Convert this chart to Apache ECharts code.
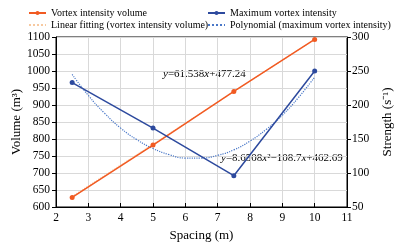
<!DOCTYPE html>
<html>
<head>
<meta charset="utf-8">
<script src="https://cdn.jsdelivr.net/npm/echarts@6/dist/echarts.min.js"></script>
<style>
  html, body { margin: 0; padding: 0; background: #fff; }
  #chart { width: 398px; height: 247px; }
</style>
</head>
<body>
<div id="chart"></div>
<script>
const spacing = [2.5, 5, 7.5, 10];
const volume = [628, 782, 940, 1093];
const strength = [233, 166, 96, 250];

// fitted curves
const linearFitX = [2.5, 10];
const linearFitY = [631, 1093];
const polyFitX = [2.5, 3, 3.5, 4, 4.5, 5, 5.5, 6, 6.5, 7, 7.5, 8, 8.5, 9, 9.5, 10];
const polyFitY = [245, 214, 188, 166, 149, 136, 127, 122, 122, 126, 134, 147, 164, 185, 211, 241];

const orange = '#f15a22';
const blue = '#2d4a9e';
const fitOrange = '#f7c9a0';
const fitBlue = '#4a78c8';
const font = '"Liberation Serif", "Times New Roman", serif';

const pairs = (xs, ys) => xs.map((x, i) => [x, ys[i]]);

const legendText = { fontFamily: font, fontSize: 10, color: '#000', lineHeight: 12 };
const plain = v => String(v);

const chart = echarts.init(document.getElementById('chart'));

chart.setOption({
    animation: false,
    textStyle: { fontFamily: font, color: '#000' },
    grid: {
        left: 56,
        right: 51,
        top: 37,
        bottom: 40,
        outerBoundsMode: 'none',
        containLabel: false,
        show: true,
        borderColor: '#000',
        borderWidth: 1
    },
    legend: [
        {
            orient: 'vertical',
            left: 28,
            top: 7,
            padding: 0,
            itemWidth: 17,
            itemHeight: 5,
            itemGap: 0,
            textStyle: legendText,
            data: [
                { name: 'Vortex intensity volume' },
                { name: 'Linear fitting (vortex intensity volume)', itemStyle: { opacity: 0 } }
            ]
        },
        {
            orient: 'vertical',
            left: 207,
            top: 7,
            padding: 0,
            itemWidth: 17,
            itemHeight: 5,
            itemGap: 0,
            textStyle: legendText,
            data: [
                { name: 'Maximum vortex intensity' },
                { name: 'Polynomial (maximum vortex intensity)', itemStyle: { opacity: 0 } }
            ]
        }
    ],
    xAxis: {
        type: 'value',
        min: 2,
        max: 11,
        interval: 1,
        name: 'Spacing (m)',
        nameLocation: 'middle',
        nameGap: 21,
        nameTextStyle: { fontFamily: font, fontSize: 13, color: '#000' },
        axisLine: { lineStyle: { color: '#000' } },
        axisTick: { inside: true, length: 4, lineStyle: { color: '#000' } },
        axisLabel: { fontFamily: font, fontSize: 11.5, color: '#000', margin: 5, formatter: plain },
        splitLine: { show: true, lineStyle: { color: '#d9d9d9' } }
    },
    yAxis: [
        {
            type: 'value',
            min: 600,
            max: 1100,
            interval: 50,
            name: 'Volume (m³)',
            nameLocation: 'middle',
            nameGap: 33,
            nameMoveOverlap: false,
            nameTextStyle: { fontFamily: font, fontSize: 13, color: '#000' },
            axisLine: { show: true, lineStyle: { color: '#000' } },
            axisTick: { show: true, length: 4, lineStyle: { color: '#000' } },
            axisLabel: { fontFamily: font, fontSize: 11.5, color: '#000', margin: 6, formatter: plain },
            splitLine: { show: true, lineStyle: { color: '#d9d9d9' } }
        },
        {
            type: 'value',
            min: 50,
            max: 300,
            interval: 50,
            position: 'right',
            name: 'Strength (s⁻¹)',
            nameLocation: 'middle',
            nameGap: 34,
            nameRotate: 90,
            nameTextStyle: { fontFamily: font, fontSize: 13, color: '#000' },
            axisLine: { show: true, lineStyle: { color: '#000' } },
            axisTick: { show: true, length: 4, lineStyle: { color: '#000' } },
            axisLabel: { fontFamily: font, fontSize: 11.5, color: '#000', margin: 5, formatter: plain },
            splitLine: { show: false }
        }
    ],
    graphic: [
        {
            type: 'text',
            left: 163,
            top: 69,
            style: {
                text: '{i|y}=61.538{i|x}+477.24',
                rich: { i: { fontStyle: 'italic', fontFamily: font, fontSize: 11 } },
                fontFamily: font,
                fontSize: 11,
                fill: '#000',
                backgroundColor: '#fff'
            }
        },
        {
            type: 'text',
            left: 221,
            top: 153,
            style: {
                text: '{i|y}=8.6508{i|x}²−108.7{i|x}+462.69',
                rich: { i: { fontStyle: 'italic', fontFamily: font, fontSize: 11 } },
                fontFamily: font,
                fontSize: 11,
                fill: '#000'
            }
        }
    ],
    series: [
        {
            name: 'Linear fitting (vortex intensity volume)',
            type: 'line',
            yAxisIndex: 0,
            data: pairs(linearFitX, linearFitY),
            symbol: 'none',
            itemStyle: { color: fitOrange },
            lineStyle: { color: fitOrange, width: 1.2, type: 'dotted' },
            z: 1
        },
        {
            name: 'Polynomial (maximum vortex intensity)',
            type: 'line',
            yAxisIndex: 1,
            data: pairs(polyFitX, polyFitY),
            smooth: true,
            symbol: 'none',
            itemStyle: { color: fitBlue },
            lineStyle: { color: fitBlue, width: 1.2, type: 'dotted' },
            z: 1
        },
        {
            name: 'Vortex intensity volume',
            type: 'line',
            yAxisIndex: 0,
            data: pairs(spacing, volume),
            symbol: 'circle',
            symbolSize: 5,
            itemStyle: { color: orange },
            lineStyle: { color: orange, width: 1.5 },
            z: 3
        },
        {
            name: 'Maximum vortex intensity',
            type: 'line',
            yAxisIndex: 1,
            data: pairs(spacing, strength),
            symbol: 'circle',
            symbolSize: 5,
            itemStyle: { color: blue },
            lineStyle: { color: blue, width: 1.5 },
            z: 3
        }
    ]
});
</script>
</body>
</html>
